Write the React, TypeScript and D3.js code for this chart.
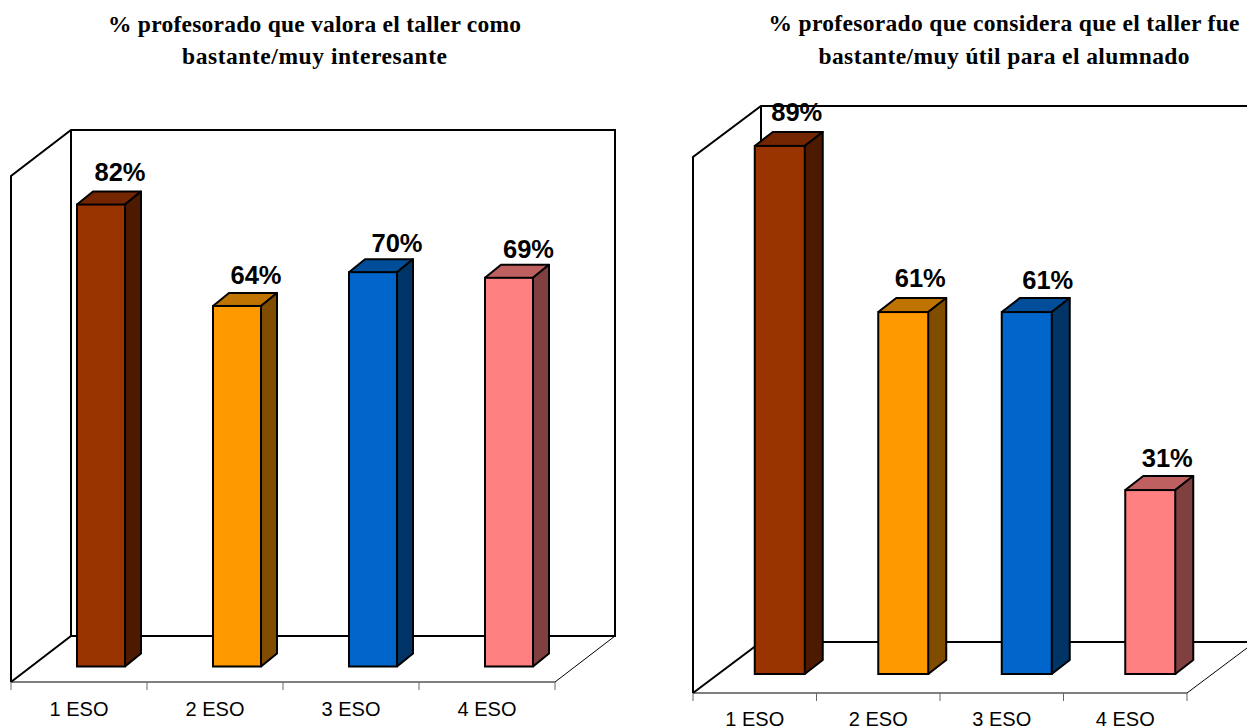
import React from "react";
import * as d3 from "d3";

const categories = ["1 ESO", "2 ESO", "3 ESO", "4 ESO"];
const valuesInteresante = [82, 64, 70, 69];
const valuesUtil = [89, 61, 61, 31];
const faceColors = ["#993300", "#FF9900", "#0066CC", "#FF8080"];
const topColors = ["#732600", "#BF7300", "#004D99", "#BF6060"];
const sideColors = ["#4D1A00", "#804D00", "#003366", "#804040"];
const titleInteresante = ["% profesorado que valora el taller como", "bastante/muy interesante"];
const titleUtil = ["% profesorado que considera que el taller fue", "bastante/muy útil para el alumnado"];

type Layout = {
  left: number; right: number; floorY: number; wallTopY: number; depthX: number; depthY: number;
  barW: number; barDX: number; barDY: number; barInset: number; barBottom: number; plotH: number;
  titleX: number; titleY: number[]; titleLen: number[]; labelDX: number[]; labelDY: number[]; axisLabelY: number;
};

const leftLayout: Layout = {
  left: 11, right: 555, floorY: 682, wallTopY: 176, depthX: 60, depthY: 46,
  barW: 48, barDX: 16, barDY: 13, barInset: 22, barBottom: 666.5, plotH: 507,
  titleX: 314.5, titleY: [32, 64], titleLen: [413, 265], labelDX: [19, 19, 24, 19.5], labelDY: [23.5, 21.5, 20.5, 19.5], axisLabelY: 716,
};
const rightLayout: Layout = {
  left: 693, right: 1187, floorY: 693, wallTopY: 157, depthX: 68, depthY: 51,
  barW: 50, barDX: 18, barDY: 14, barInset: 25, barBottom: 674, plotH: 534,
  titleX: 1004, titleY: [31, 64], titleLen: [471, 371], labelDX: [17, 17, 21, 17], labelDY: [25, 25, 23, 23], axisLabelY: 726,
};

function Panel({ values, title, l }: { values: number[]; title: string[]; l: Layout }) {
  const x = d3.scaleBand<string>().domain(categories).range([l.left, l.right]);
  const y = d3.scaleLinear().domain([0, 90]).range([l.barBottom, l.barBottom - l.plotH]);
  const backX0 = l.left + l.depthX;
  const backX1 = l.right + l.depthX;
  const backTop = l.wallTopY - l.depthY;
  const backBottom = l.floorY - l.depthY;
  const line = d3.line();
  const wall = line([[l.left, l.floorY], [l.left, l.wallTopY], [backX0, backTop], [backX1, backTop], [backX1, backBottom], [backX0, backBottom], [l.left, l.floorY]]);
  const backLeft = line([[backX0, backTop], [backX0, backBottom]]);
  const floorFront = line([[l.left, l.floorY], [l.right, l.floorY], [backX1, backBottom]]);
  const ticks = [...categories.map((c) => x(c)!), l.right];
  return (
    <g>
      {title.map((t, i) => (
        <text key={t} x={l.titleX} y={l.titleY[i]} textAnchor="middle" fontFamily="'Liberation Serif', serif"
          fontWeight="bold" fontSize={23.5} textLength={l.titleLen[i]} fill="#000">{t}</text>
      ))}
      <path d={wall!} fill="#fff" stroke="#000" strokeWidth={2} />
      <path d={backLeft!} fill="none" stroke="#000" strokeWidth={2} />
      <path d={floorFront!} fill="none" stroke="#000" strokeWidth={1} />
      {ticks.map((t) => (
        <line key={t} x1={t} x2={t} y1={l.floorY} y2={l.floorY + 8} stroke="#666" strokeWidth={1} />
      ))}
      {categories.map((c, i) => {
        const x0 = x(c)! + (x.bandwidth() - l.barW) / 2 + l.barInset;
        const x1 = x0 + l.barW;
        const top = y(values[i]);
        const bottom = l.barBottom;
        const d = l.barDX;
        const e = l.barDY;
        return (
          <g key={c}>
            <path d={line([[x0, top], [x0 + d, top - e], [x1 + d, top - e], [x1, top]])!} fill={topColors[i]} stroke="#000" strokeWidth={2} strokeLinejoin="round" />
            <path d={line([[x1, top], [x1 + d, top - e], [x1 + d, bottom - e], [x1, bottom]])!} fill={sideColors[i]} stroke="#000" strokeWidth={2} strokeLinejoin="round" />
            <rect x={x0} y={top} width={l.barW} height={bottom - top} fill={faceColors[i]} stroke="#000" strokeWidth={2} />
            <text x={x0 + l.barW / 2 + l.labelDX[i]} y={top - l.labelDY[i]} textAnchor="middle" fontFamily="'Liberation Sans', sans-serif" fontWeight="bold" fontSize={25.5} fill="#000">{values[i]}%</text>
            <text x={x(c)! + x.bandwidth() / 2} y={l.axisLabelY} textAnchor="middle" fontFamily="'Liberation Sans', sans-serif" fontSize={20} fill="#000">{c}</text>
          </g>
        );
      })}
    </g>
  );
}

export default function App() {
  return (
    <svg width={1247} height={728} style={{ position: "absolute", left: 0, top: 0, display: "block" }}>
      <rect width={1247} height={728} fill="#fff" />
      <Panel values={valuesInteresante} title={titleInteresante} l={leftLayout} />
      <Panel values={valuesUtil} title={titleUtil} l={rightLayout} />
    </svg>
  );
}
